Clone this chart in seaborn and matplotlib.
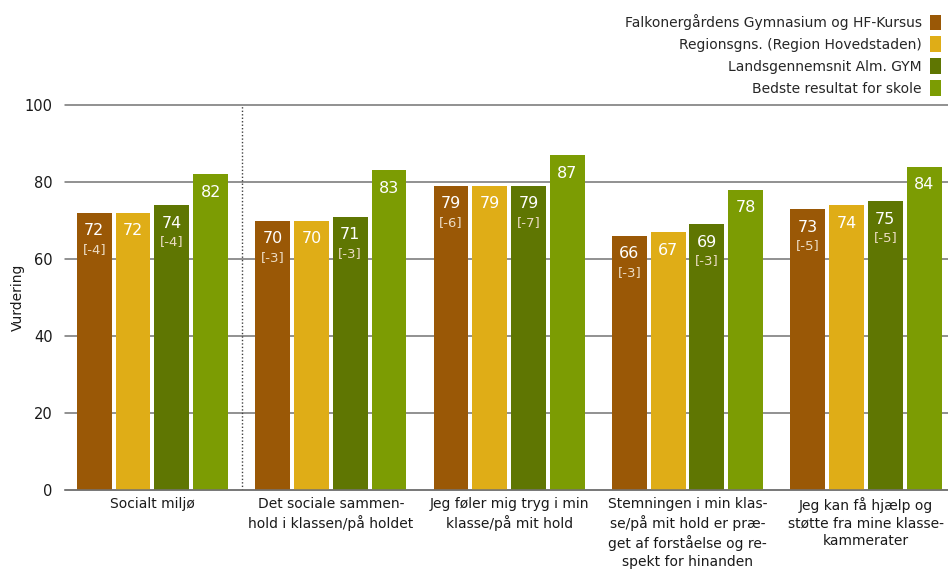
import pandas as pd
import numpy as np
import matplotlib.pyplot as plt
import seaborn as sns

# Kategorier (med orddeling som i originalen)
kategorier = [
    "Socialt miljø",
    "Det sociale sammen-\nhold i klassen/på holdet",
    "Jeg føler mig tryg i min\nklasse/på mit hold",
    "Stemningen i min klas-\nse/på mit hold er præ-\nget af forståelse og re-\nspekt for hinanden",
    "Jeg kan få hjælp og\nstøtte fra mine klasse-\nkammerater",
]
serier = [
    "Falkonergårdens Gymnasium og HF-Kursus",
    "Regionsgns. (Region Hovedstaden)",
    "Landsgennemsnit Alm. GYM",
    "Bedste resultat for skole",
]
skole = [72, 70, 79, 66, 73]
region = [72, 70, 79, 67, 74]
lands = [74, 71, 79, 69, 75]
bedste = [82, 83, 87, 78, 84]

# Forskel i klammer (kun skole og landsgennemsnit)
diff_skole = [-4, -3, -6, -3, -5]
diff_lands = [-4, -3, -7, -3, -5]

farver = ["#9A5806", "#DFAD17", "#5F7602", "#7C9C03"]

df = pd.DataFrame({
    "kategori": kategorier * 4,
    "serie": np.repeat(serier, len(kategorier)),
    "vaerdi": skole + region + lands + bedste,
})

sns.set_style("white")
plt.rcParams["font.family"] = ["DejaVu Sans"]

fig = plt.figure(figsize=(9.48, 5.70), dpi=100)
ax = fig.add_axes([65 / 948, 1 - 490 / 570, 1 - 65 / 948, 385 / 570])

sns.barplot(data=df, x="kategori", y="vaerdi", hue="serie",
            palette=farver, width=0.87, gap=0.1, saturation=1,
            linewidth=0, ax=ax, zorder=2)

ax.set_ylim(0, 100)
ax.set_xlim(-0.49, 4.46)
ax.set_yticks([0, 20, 40, 60, 80, 100])
ax.yaxis.grid(True, color="#737373", linewidth=1.1, zorder=0)
for gl in ax.get_ygridlines():
    gl.set_clip_on(False)
ax.set_axisbelow(True)
for s in ["top", "right", "left"]:
    ax.spines[s].set_visible(False)
ax.spines["bottom"].set_color("#737373")
ax.spines["bottom"].set_linewidth(1.1)
ax.tick_params(axis="both", length=0, labelsize=10, colors="#1a1a1a")
ax.tick_params(axis="y", pad=9, labelsize=10.5)
ax.tick_params(axis="x", pad=5)
for lbl in ax.get_xticklabels():
    lbl.set_linespacing(1.32)
ax.set_xlabel("")
ax.set_ylabel("Vurdering", fontsize=10, color="#1a1a1a", labelpad=0)

# Skillelinje mellem overordnet og underspørgsmål
ax.axvline(0.5, color="#404040", linestyle=(0, (1, 1.5)), linewidth=1, zorder=1)

# Værdier i søjlerne
diffs = [diff_skole, None, diff_lands, None]
for container, d in zip(ax.containers, diffs):
    for i, bar in enumerate(container):
        xc = bar.get_x() + bar.get_width() / 2
        h = bar.get_height()
        ax.text(xc, h - 4.7, f"{h:.0f}", ha="center", va="center",
                color="white", fontsize=11.5, zorder=3)
        if d is not None:
            ax.text(xc, h - 9.5, f"[{d[i]}]", ha="center", va="center",
                    color="#ecdcc4", fontsize=9.5, zorder=3)

handles, labels = ax.get_legend_handles_labels()
ax.get_legend().remove()
fig.legend(handles, labels, loc="upper right", bbox_to_anchor=(0.998, 0.985),
           frameon=False, markerfirst=False, fontsize=10,
           handlelength=0.75, handleheight=1.35, handletextpad=0.6,
           labelspacing=0.45, borderaxespad=0)

plt.savefig("out.png", dpi=100)
